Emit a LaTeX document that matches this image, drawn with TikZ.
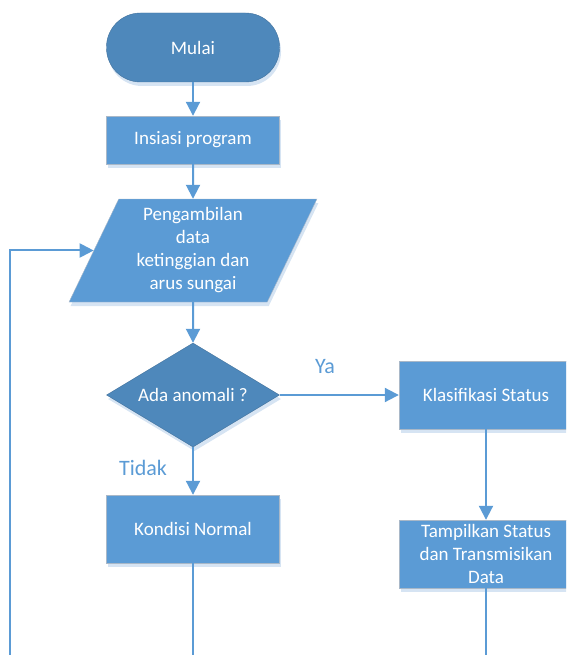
\documentclass[tikz,border=0pt]{standalone}
\usepackage{fontspec}
\setmainfont{Carlito}
\usetikzlibrary{shapes.geometric,arrows.meta,shadows}
\definecolor{boxblue}{HTML}{5B9BD5}
\definecolor{darkblue}{HTML}{4E88BB}
\definecolor{darkedge}{HTML}{41719C}
\definecolor{boxedge}{HTML}{A9B8C8}
\definecolor{shadowblue}{HTML}{D6E4F3}

\begin{document}
\begin{tikzpicture}[x=1pt,y=-1pt,
  base/.style={draw=boxedge,fill=boxblue,text=white,align=center,inner sep=2pt,
    font=\fontsize{19}{23}\selectfont,
    drop shadow={shadow xshift=1.5pt,shadow yshift=-4pt,fill=shadowblue,opacity=1}},
  proses/.style={base,rectangle,minimum width=173pt,minimum height=68pt},
  terminal/.style={base,rectangle,rounded corners=34pt,fill=darkblue,draw=darkedge,minimum width=173pt,minimum height=69pt},
  keputusan/.style={base,diamond,aspect=1.66,fill=darkblue,draw=darkedge,inner sep=0pt,minimum width=173pt,minimum height=104pt},
  masukan/.style={base,trapezium,trapezium left angle=66.4,trapezium right angle=113.6,trapezium stretches=true,minimum width=248pt,minimum height=103pt},
  ket/.style={text=boxblue,font=\fontsize{22}{26}\selectfont},
  arus/.style={draw=boxblue,line width=2pt,-{Triangle[width=14pt,length=14pt]}},
  garis/.style={draw=boxblue,line width=2pt}]
\clip (0,0) rectangle (566,655);

\node[terminal] at (193,47.5) (mulai) {Mulai};
\node[proses,minimum height=48pt] at (193,140) (insiasi) {Insiasi program};
\node[masukan] at (193,250.5) (data) {Pengambilan\\ data\\ ketinggian dan\\ arus sungai};
\node[keputusan] at (193,395) (anomali) {Ada anomali ?};
\node[proses,minimum width=174pt] at (486,395) (klasifikasi) {Klasifikasi Status};
\node[proses] at (193,529) (normal) {Kondisi Normal};
\node[proses,minimum width=174pt] at (486,554) (tampilkan) {Tampilkan Status\\ dan Transmisikan\\ Data};

\node[ket] at (325,367) (ya) {Ya};
\node[ket] at (143,468) (tidak) {Tidak};

\coordinate (ujungkiri) at (10,665);
\coordinate (ujungnormal) at (193,665);
\coordinate (ujungtampil) at (486,665);

\draw[arus] (mulai) -- (insiasi);
\draw[arus] (insiasi) -- (data);
\draw[arus] (data) -- (anomali);
\draw[arus] (anomali) -- (klasifikasi);
\draw[arus] (anomali) -- (normal);
\draw[arus] (klasifikasi) -- (tampilkan);
\draw[garis] (normal) -- (ujungnormal);
\draw[garis] (tampilkan) -- (ujungtampil);
\draw[arus] (ujungkiri) |- (data.west);
\end{tikzpicture}
\end{document}
